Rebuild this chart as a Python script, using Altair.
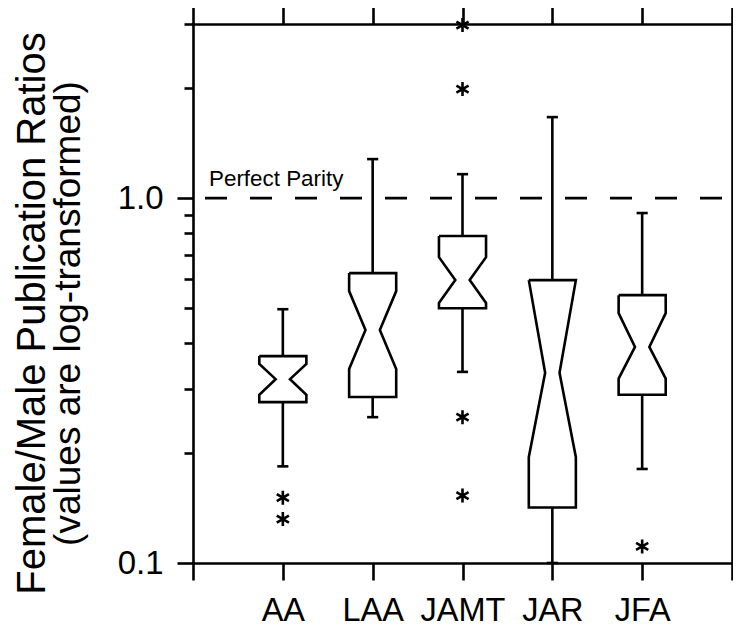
import json
import altair as alt
import pandas as pd

# ---------------- data ----------------
categories = ["AA", "LAA", "JAMT", "JAR", "JFA"]
positions = [1, 2, 3, 4, 5]
upper_whisker = [0.496, 1.279, 1.163, 1.667, 0.910]
q3 = [0.369, 0.623, 0.787, 0.596, 0.542]
notch_hi = [0.351, 0.556, 0.689, 0.596, 0.484]
median = [0.319, 0.435, 0.596, 0.332, 0.391]
notch_lo = [0.289, 0.340, 0.516, 0.195, 0.320]
q1 = [0.276, 0.285, 0.499, 0.142, 0.289]
lower_whisker = [0.184, 0.251, 0.334, 0.100, 0.181]
outlier_cat = ["AA", "AA", "JAMT", "JAMT", "JAMT", "JAMT", "JFA"]
outlier_val = [0.151, 0.132, 2.98, 1.99, 0.251, 0.153, 0.111]
y_ticks = [0.1, 0.2, 0.3, 0.4, 0.5, 0.6, 0.7, 0.8, 0.9, 1.0, 2.0, 3.0]
x_ticks = [0, 1, 2, 3, 4, 5, 6]
parity = [1.0]
parity_label = "Perfect Parity"
title_line1 = "Female/Male Publication Ratios"
title_line2 = "(values are log-transformed)"

# ---------------- styles ----------------
BOX_HALF = 0.262
NOTCH_HALF = 0.08
CAP_HALF = 0.062
LW = 2.6
FONT = "Liberation Sans"
ASTERISK = "M0,-1L0,1M-0.87,-0.5L0.87,0.5M-0.87,0.5L0.87,-0.5"

pos_of = dict(zip(categories, positions))

# notched box outlines
rows = []
for c, p, a, nh, m, nl, b in zip(categories, positions, q3, notch_hi, median, notch_lo, q1):
    pts = [(p - BOX_HALF, a), (p + BOX_HALF, a), (p + BOX_HALF, nh), (p + NOTCH_HALF, m),
           (p + BOX_HALF, nl), (p + BOX_HALF, b), (p - BOX_HALF, b), (p - BOX_HALF, nl),
           (p - NOTCH_HALF, m), (p - BOX_HALF, nh), (p - BOX_HALF, a)]
    for k, (xx, yy) in enumerate(pts):
        rows.append({"cat": c, "k": k, "x": xx, "y": yy})
outline = pd.DataFrame(rows)

summary = pd.DataFrame({
    "cat": categories, "pos": positions, "up": upper_whisker, "q3": q3,
    "med": median, "q1": q1, "lo": lower_whisker,
    "cl": [p - CAP_HALF for p in positions], "cr": [p + CAP_HALF for p in positions],
})
outliers = pd.DataFrame({"cat": outlier_cat, "v": outlier_val,
                         "pos": [pos_of[c] for c in outlier_cat]})
parity_df = pd.DataFrame({"v": parity, "label": [parity_label]})

# ---------------- scales & axes ----------------
xs = alt.Scale(domain=[0, 6], nice=False, zero=False)
ys = alt.Scale(type="log", domain=[0.1, 3], nice=False)

major = "datum.value == 1 || datum.value == 0.1"
tick_size_y = {"condition": {"test": "!(" + major + ")", "value": 9}, "value": 16}
x_label_expr = json.dumps([""] + categories + [""]) + "[datum.value]"

x_bottom = alt.Axis(orient="bottom", values=x_ticks, labelExpr=x_label_expr, tickSize=17,
                    labelPadding=14, labelFontSize=32.5, grid=False, title=None)
y_left = alt.Axis(orient="left", values=y_ticks,
                  labelExpr="datum.value == 1 ? '1.0' : datum.value == 0.1 ? '0.1' : ''",
                  tickSize=tick_size_y, labelPadding=14, labelFontSize=33, grid=False,
                  title=title_line1, titleFontSize=40, titleFontWeight="normal",
                  titleAngle=270, titleX=-161, titleY=289, titleAlign="center",
                  titleBaseline="middle")

X = lambda f: alt.X(f, type="quantitative", scale=xs, axis=x_bottom)
Y = lambda f: alt.Y(f, type="quantitative", scale=ys, axis=y_left)

boxes = alt.Chart(outline).mark_line(color="black", strokeWidth=LW, strokeJoin="miter").encode(
    x=X("x"), y=Y("y"), order=alt.Order("k:Q"), detail=alt.Detail("cat:N"))

upper = alt.Chart(summary).mark_rule(color="black", strokeWidth=LW).encode(
    x=X("pos"), y=Y("q3"), y2="up")
lower = alt.Chart(summary).mark_rule(color="black", strokeWidth=LW).encode(
    x=X("pos"), y=Y("q1"), y2="lo")
cap_up = alt.Chart(summary).mark_rule(color="black", strokeWidth=LW).encode(
    x=X("cl"), x2="cr", y=Y("up"))
cap_lo = alt.Chart(summary).mark_rule(color="black", strokeWidth=LW).encode(
    x=X("cl"), x2="cr", y=Y("lo"))

pts = alt.Chart(outliers).mark_point(shape=ASTERISK, size=196, filled=False, color="black",
                                     strokeWidth=LW, opacity=1).encode(x=X("pos"), y=Y("v"))

dash = alt.Chart(parity_df).mark_rule(color="black", strokeWidth=LW, strokeDash=[22, 23],
                                      strokeDashOffset=35).encode(y=Y("v"))
dash_text = alt.Chart(parity_df).mark_text(align="left", baseline="alphabetic", dx=16, dy=-12,
                                           fontSize=22.4, font=FONT, color="black").encode(
    x=alt.value(0), y=Y("v"), text="label:N")

inner = alt.layer(boxes, upper, lower, cap_up, cap_lo, pts, dash, dash_text)

mirror = alt.Chart(summary).mark_point(opacity=0).encode(
    x=alt.X("pos:Q", scale=xs, axis=alt.Axis(orient="top", values=x_ticks, labels=False,
                                               tickSize=17, grid=False, title=None)),
    y=alt.Y("med:Q", scale=ys, axis=alt.Axis(orient="right", values=y_ticks, labels=False,
                                               tickSize=tick_size_y, grid=False, title=None)))

title2 = alt.Chart(summary).mark_point(opacity=0).encode(
    x=alt.X("pos:Q", scale=xs, axis=None),
    y=alt.Y("med:Q", scale=ys, axis=alt.Axis(orient="left", domain=False, ticks=False,
                                               labels=False, grid=False, title=title_line2,
                                               titleFontSize=37, titleFontWeight="normal",
                                               titleAngle=270, titleX=-125, titleY=289,
                                               titleAlign="center", titleBaseline="middle")))

chart = alt.layer(inner, mirror, title2).resolve_axis(x="independent", y="independent").properties(
    width=539, height=539,
    padding={"left": 185, "top": 16, "right": 1, "bottom": 64},
    autosize=alt.AutoSizeParams(type="none"),
    background="white",
).configure_view(stroke=None).configure_axis(
    domainColor="black", domainWidth=LW, domainCap="square", tickColor="black", tickWidth=LW,
    labelColor="black", labelFont=FONT, titleFont=FONT, titleColor="black", grid=False,
)

chart.save("out.html", embed_options={"renderer": "svg", "actions": False})
